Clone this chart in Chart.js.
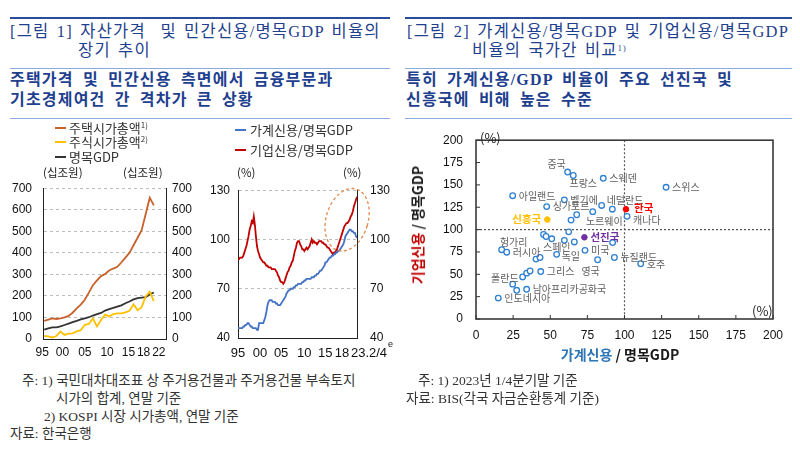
<!DOCTYPE html>
<html>
<head>
<meta charset="utf-8">
<script src="https://cdn.jsdelivr.net/npm/chart.js@4.4.0/dist/chart.umd.min.js"></script>
<style>
  body { margin: 0; background: #fff; }
  #page { position: relative; width: 800px; height: 453px; overflow: hidden; font-family: "Noto Sans CJK KR", sans-serif; color: #222; }
  .t { position: absolute; white-space: nowrap; line-height: 1; }
  .rule { position: absolute; }
  .title { font-family: "Liberation Serif", "Noto Sans CJK KR", serif; font-size: 16.5px; color: #1f3f8f; letter-spacing: 1.2px; word-spacing: 2px; }
  .sub { font-family: "Liberation Serif", "Noto Sans CJK KR", serif; font-size: 16px; font-weight: bold; color: #1f3f8f; letter-spacing: 1.2px; word-spacing: 4px; }
  .note { font-family: "Liberation Serif", "Noto Sans CJK KR", serif; font-size: 13.5px; color: #333; }
  .leg { font-size: 13px; color: #333; }
  .leg sup, .title sup { font-size: 8px; vertical-align: 5px; }
  .swatch { position: absolute; height: 2px; width: 11px; }
  .unit { font-size: 11.5px; color: #222; }
  canvas { position: absolute; }
  .axt { font-size: 14px; font-weight: bold; color: #1a1a1a; }
</style>
</head>
<body>
<div id="page">
  <div class="rule" style="left:10px;top:17px;width:380px;height:2px;background:#2a4d9b"></div>
  <div class="rule" style="left:10px;top:68px;width:380px;height:1px;background:#8eaadb"></div>
  <div class="rule" style="left:10px;top:118px;width:380px;height:1px;background:#8eaadb"></div>
  <div class="rule" style="left:405px;top:17px;width:387px;height:2px;background:#2a4d9b"></div>
  <div class="rule" style="left:405px;top:68px;width:387px;height:1px;background:#8eaadb"></div>
  <div class="rule" style="left:405px;top:118px;width:387px;height:1px;background:#8eaadb"></div>

  <div class="t title" style="left:10px;top:24px">[그림 1] 자산가격&nbsp; 및 민간신용/명목GDP 비율의</div>
  <div class="t title" style="left:78px;top:43px">장기 추이</div>
  <div class="t sub" style="left:10px;top:72px">주택가격 및 민간신용 측면에서 금융부문과</div>
  <div class="t sub" style="left:10px;top:92px">기초경제여건 간 격차가 큰 상황</div>

  <div class="t title" style="left:407px;top:24px">[그림 2] 가계신용/명목GDP 및 기업신용/명목GDP</div>
  <div class="t title" style="left:472px;top:43px">비율의 국가간 비교<sup>1)</sup></div>
  <div class="t sub" style="left:406px;top:72px">특히 가계신용/GDP 비율이 주요 선진국 및</div>
  <div class="t sub" style="left:406px;top:92px">신흥국에 비해 높은 수준</div>

  <canvas id="assetChart" width="195" height="195" style="left:0;top:170px"></canvas>
  <canvas id="creditChart" width="205" height="195" style="left:195px;top:170px"></canvas>
  <canvas id="countryChart" width="400" height="250" style="left:400px;top:120px"></canvas>

  <div class="swatch" style="left:55px;top:127px;background:#c8602a"></div>
  <div class="t leg" style="left:69px;top:121px">주택시가총액<sup>1)</sup></div>
  <div class="swatch" style="left:55px;top:141px;background:#ffc000"></div>
  <div class="t leg" style="left:69px;top:135px">주식시가총액<sup>2)</sup></div>
  <div class="swatch" style="left:55px;top:156px;background:#333"></div>
  <div class="t leg" style="left:69px;top:150px">명목GDP</div>
  <div class="t unit" style="left:43px;top:167px">(십조원)</div>
  <div class="t unit" style="left:123px;top:167px">(십조원)</div>

  <div class="swatch" style="left:235px;top:129px;background:#4472c4"></div>
  <div class="t leg" style="left:250px;top:123px">가계신용/명목GDP</div>
  <div class="swatch" style="left:235px;top:149px;background:#c00000"></div>
  <div class="t leg" style="left:250px;top:143px">기업신용/명목GDP</div>
  <div class="t unit" style="left:237px;top:167px">(%)</div>
  <div class="t unit" style="left:343px;top:167px">(%)</div>

  <div class="t unit" style="left:480px;top:131px;font-size:13px">(%)</div>
  <div class="t unit" style="left:752px;top:304px;font-size:13px">(%)</div>
  <div class="t axt" style="left:620px;top:347px;transform:translateX(-50%)"><span style="color:#2e75b6">가계신용</span> / 명목GDP</div>
  <div class="t axt" style="left:417px;top:225px;transform:translate(-50%,-50%) rotate(-90deg)"><span style="color:#c00000">기업신용</span> / 명목GDP</div>

  <div class="t note" style="left:22px;top:374px">주: 1) 국민대차대조표 상 주거용건물과 주거용건물 부속토지</div>
  <div class="t note" style="left:56px;top:392px">시가의 합계, 연말 기준</div>
  <div class="t note" style="left:44px;top:410px">2) KOSPI 시장 시가총액, 연말 기준</div>
  <div class="t note" style="left:10px;top:427px">자료: 한국은행</div>
  <div class="t note" style="left:418px;top:374px">주: 1) 2023년 1/4분기말 기준</div>
  <div class="t note" style="left:406px;top:392px">자료: BIS(각국 자금순환통계 기준)</div>
</div>

<script>
// ---- chart 1: asset values vs nominal GDP (annual, 십조원)
const years = [1995,1996,1997,1998,1999,2000,2001,2002,2003,2004,2005,2006,2007,2008,
               2009,2010,2011,2012,2013,2014,2015,2016,2017,2018,2019,2020,2021,2022];
const housingValue = [84,90,96,93,96,100,107,122,142,160,182,215,250,272,
                      292,302,318,327,335,355,378,400,435,470,505,580,656,620];
const stockValue = [14,12,7,14,35,19,25,26,35,41,66,70,95,58,
                    88,113,105,115,119,119,124,131,161,134,148,198,220,176];
const gdpValue = [44,49,54,54,59,65,71,78,84,91,96,101,109,115,
                  121,132,139,144,150,156,166,174,184,190,192,194,207,216];
const assetTickValues = [1995,2000,2005,2010,2015,2018,2022];
const assetTickLabels = ['95','00','05','10','15','18','22'];

// ---- chart 2: household / corporate credit to GDP (quarterly, %), 1995Q1 ~ 2023Q2e
const firstQuarterYear = 1995;
const householdRatio = [
  46,46,46,46, 46,47,47,48, 48,49,49,48, 47,47,46,46, 46,46,45,45,
  49,49,49,49, 49,51,53,56, 60,62,63,63, 63,62,62,62, 61,61,60,60,
  60,61,62,63, 64,65,67,68, 69,69,70,70, 70,71,71,72, 72,73,73,73,
  73,74,74,75, 75,76,76,76, 76,76,77,77, 77,78,78,79, 79,80,81,81,
  82,83,84,86, 86,87,88,89, 89,90,90,91, 91,92,92,93, 93,94,95,96,
  97,99,102,103, 104,105,106,106, 105,105,104,104, 102,101];
const corporateRatio = [
  88,88,89,89, 89,90,92,94, 96,99,102,106, 108,111,110,114, 109,102,96,93,
  91,89,88,87, 86,86,85,84, 84,83,83,83, 82,82,82,82, 81,80,78,77,
  75,74,74,73, 74,76,78,80, 81,83,84,86, 87,90,93,95, 98,99,99,97,
  96,94,94,93, 94,95,94,95, 96,98,100,98, 99,98,98,97, 98,99,99,99,
  98,98,97,97, 96,95,95,94, 93,92,91,92, 92,93,94,96, 98,100,102,104,
  106,108,109,110, 110,111,112,114, 115,117,120,122, 124,126];
const creditTickValues = [1995,2000,2005,2010,2015,2018,2023.25];
const creditTickLabels = ['95','00','05','10','15','18','23.2/4'];

// ---- chart 3: cross-country comparison, 2023Q1 (%)
const countryNames = ['중국','프랑스','스웨덴','스위스','아일랜드','벨기에','싱가포르','','네덜란드','노르웨이',
  '캐나다','','','','','스페인','','','','',
  '헝가리','러시아','','','독일','미국','영국','뉴질랜드','호주','폴란드',
  '','','그리스','','','남아프리카공화국','인도네시아'];
const countryHousehold = [61.7,65.5,85.7,128,24.7,59.5,47.6,78.6,84.6,91.8,
  101.7,67.8,64,45.5,47.2,51,59.5,62.4,66.2,92,
  17.3,20.7,40.4,43.1,54.3,73.4,81.9,93.2,110.9,31.4,
  34.1,36.4,43.6,24.7,27.4,34.1,15];
const countryCorporate = [164.4,160.5,157.4,147.3,137.9,133.3,125.7,120.1,127,122.8,
  114.8,116.6,110.6,94.5,92.3,89.7,88,97.5,86.2,85.5,
  77.5,74.7,67,68.8,72.3,76.8,66.3,68.8,61.8,47.1,
  51.3,53.7,53.1,39,32.1,33.2,23.4];
const groupNames = ['한국','신흥국','선진국'];
const groupHousehold = [101,48,73];
const groupCorporate = [122.8,111.3,91.4];

Chart.defaults.font.family = '"Liberation Sans", "Noto Sans CJK KR", sans-serif';
Chart.defaults.color = '#111';

const fixW = w => s => { s.width = w; };
const fixH = h => s => { s.height = h; };
const toPoints = (xs, ys) => xs.map((x, i) => ({ x, y: ys[i] }));
const quarterX = householdRatio.map((_, i) => firstQuarterYear + i / 4);

// x tick labels drawn by hand so the nudges of the original layout can be kept
const xLabels = {
  id: 'xLabels',
  afterDraw(chart, args, o) {
    const { ctx, scales: { x }, chartArea } = chart;
    ctx.save();
    ctx.font = o.size + 'px "Liberation Sans"';
    ctx.fillStyle = '#111';
    ctx.textAlign = 'center';
    ctx.textBaseline = 'middle';
    const y = chartArea.bottom + o.pad;
    o.values.forEach((v, i) => {
      ctx.fillText(o.labels[i], x.getPixelForValue(v) + o.nudge[i], y);
    });
    if (o.sup) {
      const last = o.values.length - 1;
      const right = x.getPixelForValue(o.values[last]) + o.nudge[last] + ctx.measureText(o.labels[last]).width / 2;
      ctx.font = '9px "Liberation Sans"';
      ctx.textAlign = 'left';
      ctx.fillText(o.sup, right + 1, y - 8);
    }
    ctx.restore();
  }
};

new Chart(document.getElementById('assetChart'), {
  type: 'line',
  data: {
    datasets: [
      { data: toPoints(years, housingValue), borderColor: '#c8602a' },
      { data: toPoints(years, stockValue), borderColor: '#ffc000' },
      { data: toPoints(years, gdpValue), borderColor: '#333333' }
    ]
  },
  options: {
    responsive: false, animation: false,
    layout: { padding: { top: 10 } },
    elements: { point: { radius: 0 }, line: { borderWidth: 1.8, tension: 0 } },
    plugins: {
      legend: { display: false }, tooltip: { enabled: false },
      xLabels: { values: assetTickValues, labels: assetTickLabels, nudge: [-2, -2, 0, 2, 3, 6, 5], pad: 14, size: 12 }
    },
    scales: {
      x: {
        type: 'linear', min: 1994.7, max: 2025,
        afterBuildTicks: a => { a.ticks = assetTickValues.map(v => ({ value: v })); },
        ticks: { display: false },
        grid: { display: false },
        border: { color: '#222', width: 1 },
        afterFit: fixH(26)
      },
      y: {
        position: 'left', min: 0, max: 700,
        ticks: { stepSize: 100, font: { size: 12 }, padding: 11 },
        grid: { color: '#bdbdbd', drawTicks: false },
        border: { color: '#222', width: 1, dash: [3, 3] },
        afterFit: fixW(43)
      },
      y2: {
        position: 'right', min: 0, max: 700,
        ticks: { stepSize: 100, font: { size: 12 }, padding: 6 },
        grid: { display: false, drawTicks: false },
        border: { color: '#222', width: 1 },
        afterFit: fixW(29)
      }
    }
  },
  plugins: [xLabels]
});

const creditNote = {
  id: 'creditNote',
  afterDraw(chart) {
    const { ctx, scales: { x, y } } = chart;
    ctx.save();
    ctx.strokeStyle = '#e0884a';
    ctx.lineWidth = 1.3;
    ctx.setLineDash([3, 2.5]);
    ctx.beginPath();
    ctx.ellipse(x.getPixelForValue(2020.9), y.getPixelForValue(112), 21, 32, 0.29, 0, Math.PI * 2);
    ctx.stroke();
    ctx.restore();
  }
};

new Chart(document.getElementById('creditChart'), {
  type: 'line',
  data: {
    datasets: [
      { data: toPoints(quarterX, householdRatio), borderColor: '#4472c4' },
      { data: toPoints(quarterX, corporateRatio), borderColor: '#c00000' }
    ]
  },
  options: {
    responsive: false, animation: false,
    layout: { padding: { top: 9 } },
    elements: { point: { radius: 0 }, line: { borderWidth: 1.8, tension: 0 } },
    plugins: {
      legend: { display: false }, tooltip: { enabled: false },
      xLabels: { values: creditTickValues, labels: creditTickLabels, nudge: [0, 1, 1, 3, 3, 7, 12], pad: 15, size: 13, sup: 'e' }
    },
    scales: {
      x: {
        type: 'linear', min: 1995, max: 2023.25,
        afterBuildTicks: a => { a.ticks = creditTickValues.map(v => ({ value: v })); },
        ticks: { display: false },
        grid: { display: false },
        border: { color: '#222', width: 1 },
        afterFit: fixH(27)
      },
      y: {
        position: 'left', min: 40, max: 130,
        ticks: { stepSize: 30, font: { size: 12 }, padding: 8 },
        grid: { color: '#bdbdbd', drawTicks: false },
        border: { color: '#222', width: 1, dash: [3, 3] },
        afterFit: fixW(43)
      },
      y2: {
        position: 'right', min: 40, max: 130,
        ticks: { stepSize: 30, font: { size: 12 }, padding: 13 },
        grid: { display: false, drawTicks: false },
        border: { color: '#222', width: 1 },
        afterFit: fixW(43)
      }
    }
  },
  plugins: [xLabels, creditNote]
});

// label placement: offset from the point in px and text alignment
const labelPlace = {
  '중국': [-11, -8, 'center'], '프랑스': [10, 8, 'center'], '네덜란드': [5, -5, 'left'],
  '노르웨이': [-8, 12, 'center'], '캐나다': [6, 4, 'left'], '스페인': [5, 8, 'center'],
  '헝가리': [12, -8, 'center'], '영국': [-7, 11, 'center'], '폴란드': [-4, 1, 'right'],
  '신흥국': [-6, 0, 'right'], '한국': [8, -1, 'left'], '독일': [5, 2, 'left']
};
const groupColors = ['#ff0000', '#ffc000', '#7030a0'];

const scatterDecor = {
  id: 'scatterDecor',
  beforeDatasetsDraw(chart) {
    const { ctx, chartArea: a, scales: { x, y } } = chart;
    ctx.save();
    ctx.strokeStyle = '#555';
    ctx.lineWidth = 1.2;
    ctx.setLineDash([2, 2]);
    const px = x.getPixelForValue(100), py = y.getPixelForValue(100);
    ctx.beginPath();
    ctx.moveTo(px, a.top); ctx.lineTo(px, a.bottom);
    ctx.moveTo(a.left, py); ctx.lineTo(a.right, py);
    ctx.stroke();
    ctx.setLineDash([]);
    ctx.strokeStyle = '#333';
    ctx.lineWidth = 1;
    ctx.beginPath();
    x.ticks.forEach(t => { const p = x.getPixelForValue(t.value); ctx.moveTo(p, a.bottom); ctx.lineTo(p, a.bottom - 4); });
    y.ticks.forEach(t => { const p = y.getPixelForValue(t.value); ctx.moveTo(a.left, p); ctx.lineTo(a.left + 4, p); });
    ctx.stroke();
    ctx.lineWidth = 1.6;
    ctx.strokeStyle = '#3a3a3a';
    ctx.strokeRect(a.left, a.top, a.right - a.left, a.bottom - a.top);
    ctx.restore();
  },
  afterDatasetsDraw(chart) {
    const { ctx } = chart;
    ctx.save();
    ctx.textBaseline = 'middle';
    chart.data.datasets.forEach((ds, di) => {
      chart.getDatasetMeta(di).data.forEach((el, i) => {
        const name = ds.names[i];
        if (!name) return;
        const [dx, dy, align] = labelPlace[name] || [6, 0, 'left'];
        ctx.textAlign = align;
        if (ds.group) {
          ctx.font = 'bold 10.5px "Noto Sans CJK KR"';
          ctx.fillStyle = ds.borderColor;
        } else {
          ctx.font = '10px "Noto Sans CJK KR"';
          ctx.fillStyle = '#5f5f5f';
        }
        ctx.fillText(name, el.x + dx, el.y + dy);
      });
    });
    ctx.restore();
  }
};

new Chart(document.getElementById('countryChart'), {
  type: 'scatter',
  data: {
    datasets: [
      { names: countryNames, data: toPoints(countryHousehold, countryCorporate),
        borderColor: '#2f80d0', backgroundColor: '#fff', pointRadius: 2.8, borderWidth: 1.3 },
      ...groupNames.map((n, i) => ({
        names: [n], group: true,
        data: [{ x: groupHousehold[i], y: groupCorporate[i] }],
        borderColor: groupColors[i], backgroundColor: groupColors[i], pointRadius: 2.8, borderWidth: 1
      }))
    ]
  },
  options: {
    responsive: false, animation: false,
    layout: { padding: { top: 8, right: 27 } },
    plugins: { legend: { display: false }, tooltip: { enabled: false } },
    scales: {
      x: {
        min: 0, max: 200,
        ticks: { stepSize: 25, font: { size: 12 }, padding: 9 },
        grid: { display: false, drawTicks: false },
        border: { display: false },
        afterFit: fixH(51)
      },
      y: {
        min: 0, max: 200,
        ticks: { stepSize: 25, font: { size: 12 }, padding: 13 },
        grid: { display: false, drawTicks: false },
        border: { display: false },
        afterFit: fixW(76)
      }
    }
  },
  plugins: [scatterDecor]
});
</script>
</body>
</html>
